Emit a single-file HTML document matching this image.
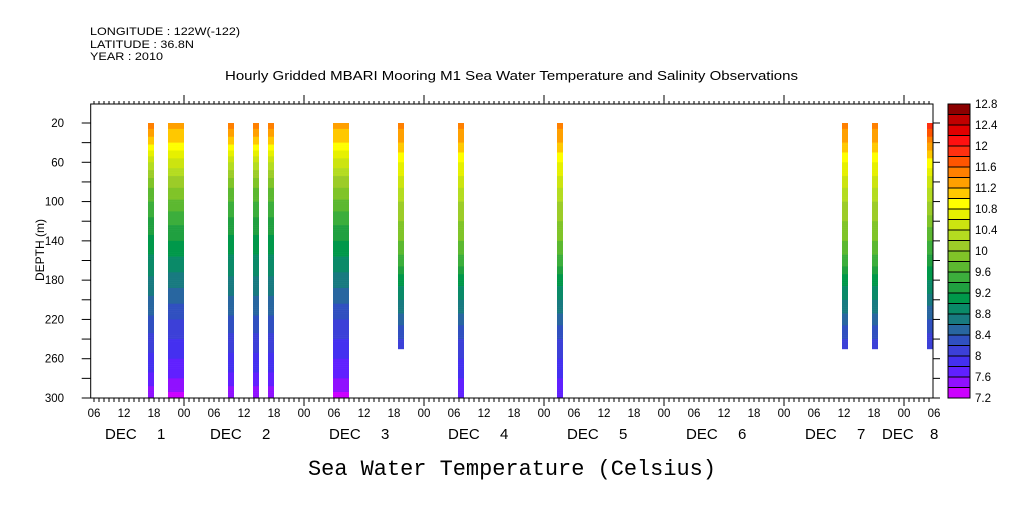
<!DOCTYPE html>
<html><head><meta charset="utf-8"><style>
body{margin:0;background:#fff;}
svg text{font-family:"Liberation Sans",sans-serif;fill:#000;}
</style></head><body>
<svg id="chart" width="1009" height="504" viewBox="0 0 1009 504" xmlns="http://www.w3.org/2000/svg">
<text x="90" y="35" font-size="11" textLength="150" lengthAdjust="spacingAndGlyphs">LONGITUDE : 122W(-122)</text>
<text x="90" y="48" font-size="11" textLength="104" lengthAdjust="spacingAndGlyphs">LATITUDE : 36.8N</text>
<text x="90" y="60" font-size="11" textLength="73" lengthAdjust="spacingAndGlyphs">YEAR : 2010</text>
<text x="225" y="80" font-size="12.5" textLength="573" lengthAdjust="spacingAndGlyphs">Hourly Gridded MBARI Mooring M1 Sea Water Temperature and Salinity Observations</text>
<text transform="translate(44,250) rotate(-90)" font-size="12" text-anchor="middle">DEPTH (m)</text>
<text x="512" y="475" font-size="22" text-anchor="middle" style="font-family:'Liberation Mono',monospace" textLength="408" lengthAdjust="spacingAndGlyphs">Sea Water Temperature (Celsius)</text>
<g id="marks"></g>
<g id="axes"></g>
<g id="cbar"></g>
</svg>
<script>
// Data: bars (hours relative to Dec 2 00:00), max depth, profile index
const barStart = [-7.2, -3.2, 8.8, 13.8, 16.8, 29.8, 42.8, 54.8, 74.6, 131.6, 137.6, 148.6];
const barEnd   = [-6.0, 0.0, 10.0, 15.0, 18.0, 33.0, 44.0, 56.0, 75.8, 132.8, 138.8, 149.8];
const barMaxDepth = [300, 300, 300, 300, 300, 300, 250, 300, 300, 250, 250, 250];
const barProfile = [0, 1, 0, 0, 0, 1, 2, 2, 2, 2, 2, 3];
const profileDepths = [20, 40, 60, 80, 100, 120, 140, 160, 180, 200, 220, 240, 260, 280, 300];
const profileA = [11.5, 11.1, 10.4, 9.9, 9.6, 9.35, 9.15, 8.95, 8.75, 8.55, 8.35, 8.15, 7.95, 7.75, 7.4];
const profileB = [11.3, 11.0, 10.5, 10.1, 9.75, 9.45, 9.2, 8.95, 8.7, 8.45, 8.2, 8.0, 7.8, 7.6, 7.3];
const profileC = [11.5, 11.2, 10.8, 10.5, 10.2, 10.0, 9.8, 9.5, 9.1, 8.8, 8.5, 8.2, 8.0, 7.8, 7.6];
const profileD = [12.0, 11.4, 10.9, 10.5, 10.2, 9.9, 9.6, 9.3, 9.0, 8.7, 8.4, 8.1, 7.9, 7.7, 7.5];
const profiles = [profileA, profileB, profileC, profileD];
const levelMin = 7.2, levelStep = 0.2;
const levelColors = ["#cc00ff","#9010ff","#6020ff","#4430f0","#3c40d8","#3050c0","#2866a0","#187a80","#0a8a68","#00984a","#20a040","#3cae3c","#5cb830","#80c428","#9ccc28","#b4dc20","#cce410","#e6f000","#ffff00","#ffc800","#ffa000","#ff8000","#ff5500","#ff3010","#ff1010","#e00000","#c00000","#8b0000"];
const cbarLabels = ["7.2","7.6","8","8.4","8.8","9.2","9.6","10","10.4","10.8","11.2","11.6","12","12.4","12.8"];
const hourLabels = ["06","12","18","00"];
const dayNames = ["1","2","3","4","5","6","7","8"];

const NS = "http://www.w3.org/2000/svg";
const X0 = 90.7, X1 = 933, Y0 = 104, Y1 = 398;
const xs = h => 184 + h * 5;
const ys = d => 123 + (d - 20) * (275 / 280);
function mk(tag, attrs, parent) {
  const e = document.createElementNS(NS, tag);
  for (const k in attrs) e.setAttribute(k, attrs[k]);
  parent.appendChild(e); return e;
}
function colorFor(t) {
  let i = Math.floor((t - levelMin) / levelStep);
  i = Math.max(0, Math.min(levelColors.length - 1, i));
  return levelColors[i];
}
function interp(p, d) {
  for (let i = 0; i < profileDepths.length - 1; i++) {
    if (d <= profileDepths[i + 1]) {
      const f = (d - profileDepths[i]) / (profileDepths[i + 1] - profileDepths[i]);
      return p[i] + f * (p[i + 1] - p[i]);
    }
  }
  return p[p.length - 1];
}
const marks = document.getElementById('marks');
for (let b = 0; b < barStart.length; b++) {
  const g = mk('g', {}, marks);
  
  
  const p = profiles[barProfile[b]];
  const x1 = xs(barStart[b]), x2 = xs(barEnd[b]);
  for (let d = 20; d < barMaxDepth[b]; d += 2) {
    const r = mk('rect', {x: x1, y: ys(d), width: x2 - x1, height: ys(d + 2) - ys(d) + 0.3, fill: colorFor(interp(p, d + 1))}, g);
    
    
  }
}
const axes = document.getElementById('axes');
const frame = mk('rect', {x: X0, y: Y0, width: X1 - X0, height: Y1 - Y0, fill: 'none', stroke: '#000', 'stroke-width': 1}, axes);


for (let h = -19; h <= 151; h++) {
  const x = xs(h);
  const mod = ((h % 24) + 24) % 24;
  if (mod % 6 === 0 && x >= X0 - 1 && x <= X1 + 3) {
    const t = mk('text', {x: x, y: 417, 'font-size': 11.5, 'text-anchor': 'middle'}, axes);
    
    
    t.textContent = hourLabels[(mod / 6 + 3) % 4];
  }
  if (x < X0 - 0.1 || x > X1 + 0.1) continue;
  const major = mod === 0;
  mk('line', {x1: x, x2: x, y1: Y0, y2: Y0 - (major ? 9 : 3), stroke: '#000'}, axes);
  mk('line', {x1: x, x2: x, y1: Y1, y2: Y1 + (major ? 8 : 4), stroke: '#000'}, axes);
}
for (let i = 0; i < dayNames.length; i++) {
  let x = i === 0 ? 105 : 210 + (i - 1) * 119;
  let off = 52;
  if (i === 7) { x = 882; off = 48; }
  const t = mk('text', {x: x, y: 439, 'font-size': 15}, axes);
  
  
  t.textContent = 'DEC';
  const n = mk('text', {x: x + off, y: 439, 'font-size': 15}, axes);
  
  
  n.textContent = dayNames[i];
}
for (let d = 20; d <= 300; d += 20) {
  const y = ys(d);
  mk('line', {x1: X0 - 9, x2: X0, y1: y, y2: y, stroke: '#000'}, axes);
  mk('line', {x1: X1, x2: X1 + 7, y1: y, y2: y, stroke: '#000'}, axes);
  if ((d - 20) % 40 === 0) {
    const t = mk('text', {x: 64, y: y + 4, 'font-size': 11.5, 'text-anchor': 'end'}, axes);
    
    
    t.textContent = d;
  }
}
const cbar = document.getElementById('cbar');


const CB0 = 104, CB1 = 398, n = levelColors.length, bh = (CB1 - CB0) / n;
for (let i = 0; i < n; i++) {
  const r = mk('rect', {x: 948, y: CB1 - (i + 1) * bh, width: 22, height: bh, fill: levelColors[i], stroke: '#000', 'stroke-width': 1}, cbar);
  
  
}
for (let i = 0; i < cbarLabels.length; i++) {
  const t = mk('text', {x: 975, y: CB1 - i * 2 * bh + 4, 'font-size': 11.5}, cbar);
  
  
  t.textContent = cbarLabels[i];
}
</script>
</body></html>
